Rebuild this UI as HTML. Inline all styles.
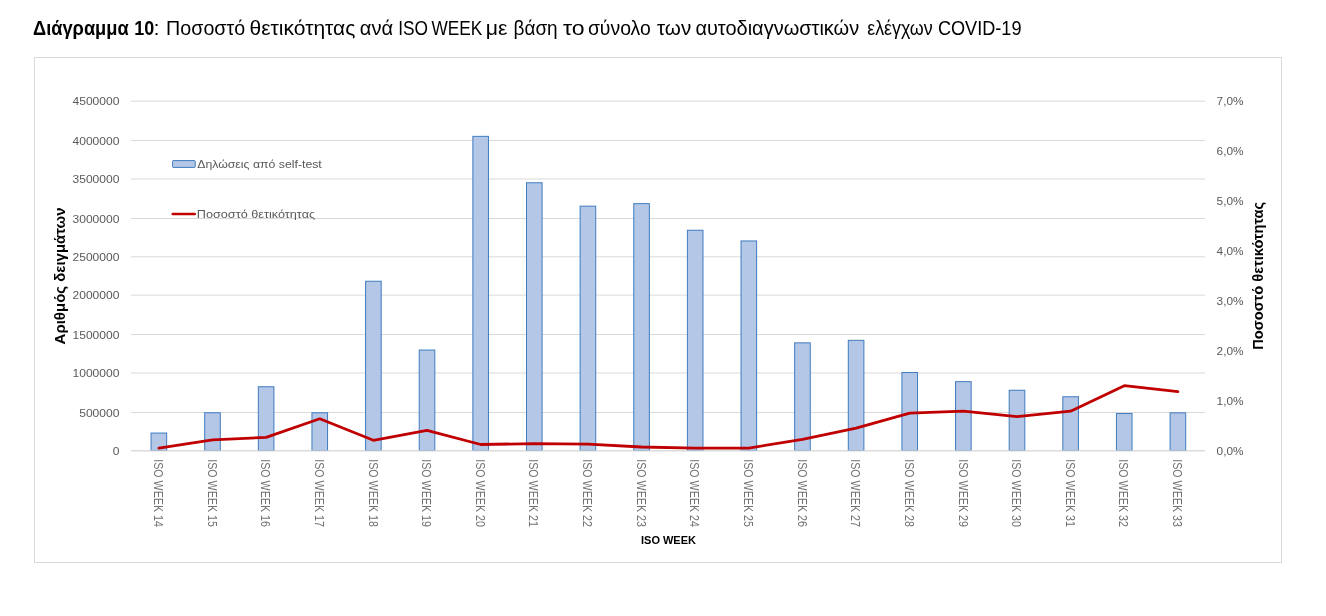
<!DOCTYPE html><html><head><meta charset="utf-8"><style>html,body{margin:0;padding:0;background:#fff;width:1326px;height:616px;overflow:hidden}svg{display:block}</style></head><body>
<svg width="1326" height="616" viewBox="0 0 1326 616" font-family="'Liberation Sans', 'DejaVu Sans', sans-serif">
<text x="33.00" y="34.8" font-size="20px" font-weight="bold" fill="#000" textLength="95.70" lengthAdjust="spacingAndGlyphs">Διάγραμμα</text>
<text x="134.20" y="34.8" font-size="20px" font-weight="bold" fill="#000" textLength="20.00" lengthAdjust="spacingAndGlyphs">10</text>
<text x="153.70" y="34.8" font-size="20px" fill="#000">:</text>
<text x="166.10" y="34.8" font-size="20px" fill="#000" textLength="79.10" lengthAdjust="spacingAndGlyphs">Ποσοστό</text>
<text x="249.50" y="34.8" font-size="20px" fill="#000" textLength="105.90" lengthAdjust="spacingAndGlyphs">θετικότητας</text>
<text x="359.80" y="34.8" font-size="20px" fill="#000" textLength="33.30" lengthAdjust="spacingAndGlyphs">ανά</text>
<text x="398.20" y="34.8" font-size="20px" fill="#000" textLength="29.80" lengthAdjust="spacingAndGlyphs">ISO</text>
<text x="431.50" y="34.8" font-size="20px" fill="#000" textLength="50.80" lengthAdjust="spacingAndGlyphs">WEEK</text>
<text x="485.70" y="34.8" font-size="20px" fill="#000" textLength="21.70" lengthAdjust="spacingAndGlyphs">με</text>
<text x="513.50" y="34.8" font-size="20px" fill="#000" textLength="44.20" lengthAdjust="spacingAndGlyphs">βάση</text>
<text x="562.90" y="34.8" font-size="20px" fill="#000" textLength="21.60" lengthAdjust="spacingAndGlyphs">το</text>
<text x="587.90" y="34.8" font-size="20px" fill="#000" textLength="62.90" lengthAdjust="spacingAndGlyphs">σύνολο</text>
<text x="657.00" y="34.8" font-size="20px" fill="#000" textLength="34.20" lengthAdjust="spacingAndGlyphs">των</text>
<text x="695.40" y="34.8" font-size="20px" fill="#000" textLength="163.80" lengthAdjust="spacingAndGlyphs">αυτοδιαγνωστικών</text>
<text x="867.20" y="34.8" font-size="20px" fill="#000" textLength="65.50" lengthAdjust="spacingAndGlyphs">ελέγχων</text>
<text x="937.90" y="34.8" font-size="20px" fill="#000" textLength="83.60" lengthAdjust="spacingAndGlyphs">COVID-19</text>
<rect x="34.5" y="57.5" width="1247" height="505" fill="#fff" stroke="#d9d9d9" stroke-width="1"/>
<line x1="131" y1="101.2" x2="1205" y2="101.2" stroke="#d9d9d9" stroke-width="1"/>
<line x1="131" y1="140.5" x2="1205" y2="140.5" stroke="#d9d9d9" stroke-width="1"/>
<line x1="131" y1="179.0" x2="1205" y2="179.0" stroke="#d9d9d9" stroke-width="1"/>
<line x1="131" y1="218.5" x2="1205" y2="218.5" stroke="#d9d9d9" stroke-width="1"/>
<line x1="131" y1="256.8" x2="1205" y2="256.8" stroke="#d9d9d9" stroke-width="1"/>
<line x1="131" y1="295.1" x2="1205" y2="295.1" stroke="#d9d9d9" stroke-width="1"/>
<line x1="131" y1="334.5" x2="1205" y2="334.5" stroke="#d9d9d9" stroke-width="1"/>
<line x1="131" y1="373.0" x2="1205" y2="373.0" stroke="#d9d9d9" stroke-width="1"/>
<line x1="131" y1="412.5" x2="1205" y2="412.5" stroke="#d9d9d9" stroke-width="1"/>
<line x1="131" y1="450.8" x2="1205" y2="450.8" stroke="#d9d9d9" stroke-width="1"/>
<rect x="151.06" y="433.05" width="15.6" height="17.45" fill="#b4c7e7" stroke="#3f7cbf" stroke-width="1"/>
<rect x="204.69" y="412.75" width="15.6" height="37.75" fill="#b4c7e7" stroke="#3f7cbf" stroke-width="1"/>
<rect x="258.33" y="386.75" width="15.6" height="63.75" fill="#b4c7e7" stroke="#3f7cbf" stroke-width="1"/>
<rect x="311.96" y="412.75" width="15.6" height="37.75" fill="#b4c7e7" stroke="#3f7cbf" stroke-width="1"/>
<rect x="365.59" y="281.25" width="15.6" height="169.25" fill="#b4c7e7" stroke="#3f7cbf" stroke-width="1"/>
<rect x="419.23" y="350.05" width="15.6" height="100.45" fill="#b4c7e7" stroke="#3f7cbf" stroke-width="1"/>
<rect x="472.86" y="136.35" width="15.6" height="314.15" fill="#b4c7e7" stroke="#3f7cbf" stroke-width="1"/>
<rect x="526.49" y="182.75" width="15.6" height="267.75" fill="#b4c7e7" stroke="#3f7cbf" stroke-width="1"/>
<rect x="580.12" y="206.15" width="15.6" height="244.35" fill="#b4c7e7" stroke="#3f7cbf" stroke-width="1"/>
<rect x="633.76" y="203.65" width="15.6" height="246.85" fill="#b4c7e7" stroke="#3f7cbf" stroke-width="1"/>
<rect x="687.39" y="230.25" width="15.6" height="220.25" fill="#b4c7e7" stroke="#3f7cbf" stroke-width="1"/>
<rect x="741.02" y="240.95" width="15.6" height="209.55" fill="#b4c7e7" stroke="#3f7cbf" stroke-width="1"/>
<rect x="794.66" y="342.85" width="15.6" height="107.65" fill="#b4c7e7" stroke="#3f7cbf" stroke-width="1"/>
<rect x="848.29" y="340.35" width="15.6" height="110.15" fill="#b4c7e7" stroke="#3f7cbf" stroke-width="1"/>
<rect x="901.92" y="372.55" width="15.6" height="77.95" fill="#b4c7e7" stroke="#3f7cbf" stroke-width="1"/>
<rect x="955.56" y="381.65" width="15.6" height="68.85" fill="#b4c7e7" stroke="#3f7cbf" stroke-width="1"/>
<rect x="1009.19" y="390.25" width="15.6" height="60.25" fill="#b4c7e7" stroke="#3f7cbf" stroke-width="1"/>
<rect x="1062.82" y="396.75" width="15.6" height="53.75" fill="#b4c7e7" stroke="#3f7cbf" stroke-width="1"/>
<rect x="1116.45" y="413.55" width="15.6" height="36.95" fill="#b4c7e7" stroke="#3f7cbf" stroke-width="1"/>
<rect x="1170.09" y="412.85" width="15.6" height="37.65" fill="#b4c7e7" stroke="#3f7cbf" stroke-width="1"/>
<line x1="131" y1="450.8" x2="1205" y2="450.8" stroke="#d9d9d9" stroke-width="1"/>
<polyline points="158.9,448.1 212.5,439.9 266.1,437.4 319.8,418.8 373.4,440.3 427.0,430.4 480.7,444.5 534.3,443.6 587.9,444.1 641.6,447.0 695.2,448.1 748.8,448.1 802.5,439.3 856.1,428.2 909.7,413.2 963.4,411.2 1017.0,416.7 1070.6,411.2 1124.3,385.7 1177.9,391.6" fill="none" stroke="#c00000" stroke-width="2.8" stroke-linejoin="round" stroke-linecap="round"/>
<text x="119.4" y="105.2" font-size="11.3px" fill="#595959" text-anchor="end" textLength="46.9" lengthAdjust="spacingAndGlyphs">4500000</text>
<text x="119.4" y="144.5" font-size="11.3px" fill="#595959" text-anchor="end" textLength="46.9" lengthAdjust="spacingAndGlyphs">4000000</text>
<text x="119.4" y="183.0" font-size="11.3px" fill="#595959" text-anchor="end" textLength="46.9" lengthAdjust="spacingAndGlyphs">3500000</text>
<text x="119.4" y="222.5" font-size="11.3px" fill="#595959" text-anchor="end" textLength="46.9" lengthAdjust="spacingAndGlyphs">3000000</text>
<text x="119.4" y="260.8" font-size="11.3px" fill="#595959" text-anchor="end" textLength="46.9" lengthAdjust="spacingAndGlyphs">2500000</text>
<text x="119.4" y="299.1" font-size="11.3px" fill="#595959" text-anchor="end" textLength="46.9" lengthAdjust="spacingAndGlyphs">2000000</text>
<text x="119.4" y="338.5" font-size="11.3px" fill="#595959" text-anchor="end" textLength="46.9" lengthAdjust="spacingAndGlyphs">1500000</text>
<text x="119.4" y="377.0" font-size="11.3px" fill="#595959" text-anchor="end" textLength="46.9" lengthAdjust="spacingAndGlyphs">1000000</text>
<text x="119.4" y="416.5" font-size="11.3px" fill="#595959" text-anchor="end" textLength="40.2" lengthAdjust="spacingAndGlyphs">500000</text>
<text x="119.4" y="454.8" font-size="11.3px" fill="#595959" text-anchor="end" textLength="6.7" lengthAdjust="spacingAndGlyphs">0</text>
<text x="1216.6" y="105.0" font-size="11.3px" fill="#595959" textLength="27" lengthAdjust="spacingAndGlyphs">7,0%</text>
<text x="1216.6" y="154.9" font-size="11.3px" fill="#595959" textLength="27" lengthAdjust="spacingAndGlyphs">6,0%</text>
<text x="1216.6" y="204.9" font-size="11.3px" fill="#595959" textLength="27" lengthAdjust="spacingAndGlyphs">5,0%</text>
<text x="1216.6" y="254.8" font-size="11.3px" fill="#595959" textLength="27" lengthAdjust="spacingAndGlyphs">4,0%</text>
<text x="1216.6" y="304.8" font-size="11.3px" fill="#595959" textLength="27" lengthAdjust="spacingAndGlyphs">3,0%</text>
<text x="1216.6" y="354.7" font-size="11.3px" fill="#595959" textLength="27" lengthAdjust="spacingAndGlyphs">2,0%</text>
<text x="1216.6" y="404.7" font-size="11.3px" fill="#595959" textLength="27" lengthAdjust="spacingAndGlyphs">1,0%</text>
<text x="1216.6" y="454.6" font-size="11.3px" fill="#595959" textLength="27" lengthAdjust="spacingAndGlyphs">0,0%</text>
<text transform="translate(154.0,459.2) rotate(90)" x="0" y="0" font-size="12.3px" fill="#707070" textLength="67.8" lengthAdjust="spacingAndGlyphs">ISO WEEK 14</text>
<text transform="translate(207.6,459.2) rotate(90)" x="0" y="0" font-size="12.3px" fill="#707070" textLength="67.8" lengthAdjust="spacingAndGlyphs">ISO WEEK 15</text>
<text transform="translate(261.2,459.2) rotate(90)" x="0" y="0" font-size="12.3px" fill="#707070" textLength="67.8" lengthAdjust="spacingAndGlyphs">ISO WEEK 16</text>
<text transform="translate(314.9,459.2) rotate(90)" x="0" y="0" font-size="12.3px" fill="#707070" textLength="67.8" lengthAdjust="spacingAndGlyphs">ISO WEEK 17</text>
<text transform="translate(368.5,459.2) rotate(90)" x="0" y="0" font-size="12.3px" fill="#707070" textLength="67.8" lengthAdjust="spacingAndGlyphs">ISO WEEK 18</text>
<text transform="translate(422.1,459.2) rotate(90)" x="0" y="0" font-size="12.3px" fill="#707070" textLength="67.8" lengthAdjust="spacingAndGlyphs">ISO WEEK 19</text>
<text transform="translate(475.8,459.2) rotate(90)" x="0" y="0" font-size="12.3px" fill="#707070" textLength="67.8" lengthAdjust="spacingAndGlyphs">ISO WEEK 20</text>
<text transform="translate(529.4,459.2) rotate(90)" x="0" y="0" font-size="12.3px" fill="#707070" textLength="67.8" lengthAdjust="spacingAndGlyphs">ISO WEEK 21</text>
<text transform="translate(583.0,459.2) rotate(90)" x="0" y="0" font-size="12.3px" fill="#707070" textLength="67.8" lengthAdjust="spacingAndGlyphs">ISO WEEK 22</text>
<text transform="translate(636.7,459.2) rotate(90)" x="0" y="0" font-size="12.3px" fill="#707070" textLength="67.8" lengthAdjust="spacingAndGlyphs">ISO WEEK 23</text>
<text transform="translate(690.3,459.2) rotate(90)" x="0" y="0" font-size="12.3px" fill="#707070" textLength="67.8" lengthAdjust="spacingAndGlyphs">ISO WEEK 24</text>
<text transform="translate(743.9,459.2) rotate(90)" x="0" y="0" font-size="12.3px" fill="#707070" textLength="67.8" lengthAdjust="spacingAndGlyphs">ISO WEEK 25</text>
<text transform="translate(797.6,459.2) rotate(90)" x="0" y="0" font-size="12.3px" fill="#707070" textLength="67.8" lengthAdjust="spacingAndGlyphs">ISO WEEK 26</text>
<text transform="translate(851.2,459.2) rotate(90)" x="0" y="0" font-size="12.3px" fill="#707070" textLength="67.8" lengthAdjust="spacingAndGlyphs">ISO WEEK 27</text>
<text transform="translate(904.8,459.2) rotate(90)" x="0" y="0" font-size="12.3px" fill="#707070" textLength="67.8" lengthAdjust="spacingAndGlyphs">ISO WEEK 28</text>
<text transform="translate(958.5,459.2) rotate(90)" x="0" y="0" font-size="12.3px" fill="#707070" textLength="67.8" lengthAdjust="spacingAndGlyphs">ISO WEEK 29</text>
<text transform="translate(1012.1,459.2) rotate(90)" x="0" y="0" font-size="12.3px" fill="#707070" textLength="67.8" lengthAdjust="spacingAndGlyphs">ISO WEEK 30</text>
<text transform="translate(1065.7,459.2) rotate(90)" x="0" y="0" font-size="12.3px" fill="#707070" textLength="67.8" lengthAdjust="spacingAndGlyphs">ISO WEEK 31</text>
<text transform="translate(1119.4,459.2) rotate(90)" x="0" y="0" font-size="12.3px" fill="#707070" textLength="67.8" lengthAdjust="spacingAndGlyphs">ISO WEEK 32</text>
<text transform="translate(1173.0,459.2) rotate(90)" x="0" y="0" font-size="12.3px" fill="#707070" textLength="67.8" lengthAdjust="spacingAndGlyphs">ISO WEEK 33</text>
<text x="668.5" y="544.2" font-size="11px" font-weight="bold" fill="#000" text-anchor="middle">ISO WEEK</text>
<text transform="translate(65.4,344.4) rotate(-90)" font-size="15px" font-weight="bold" fill="#000" textLength="137" lengthAdjust="spacingAndGlyphs">Αριθμός δειγμάτων</text>
<text transform="translate(1262.5,349.8) rotate(-90)" font-size="15px" font-weight="bold" fill="#000" textLength="148" lengthAdjust="spacingAndGlyphs">Ποσοστό θετικότητας</text>
<rect x="172.6" y="160.6" width="22.6" height="6.8" rx="0.6" fill="#b4c7e7" stroke="#3f7cbf" stroke-width="1"/>
<text x="197.2" y="167.5" font-size="11px" fill="#595959" textLength="124.6" lengthAdjust="spacingAndGlyphs">Δηλώσεις από self-test</text>
<line x1="172.8" y1="214" x2="194.7" y2="214" stroke="#c00000" stroke-width="2.7" stroke-linecap="round"/>
<text x="196.8" y="217.7" font-size="11px" fill="#595959" textLength="118.3" lengthAdjust="spacingAndGlyphs">Ποσοστό θετικότητας</text>
</svg></body></html>
